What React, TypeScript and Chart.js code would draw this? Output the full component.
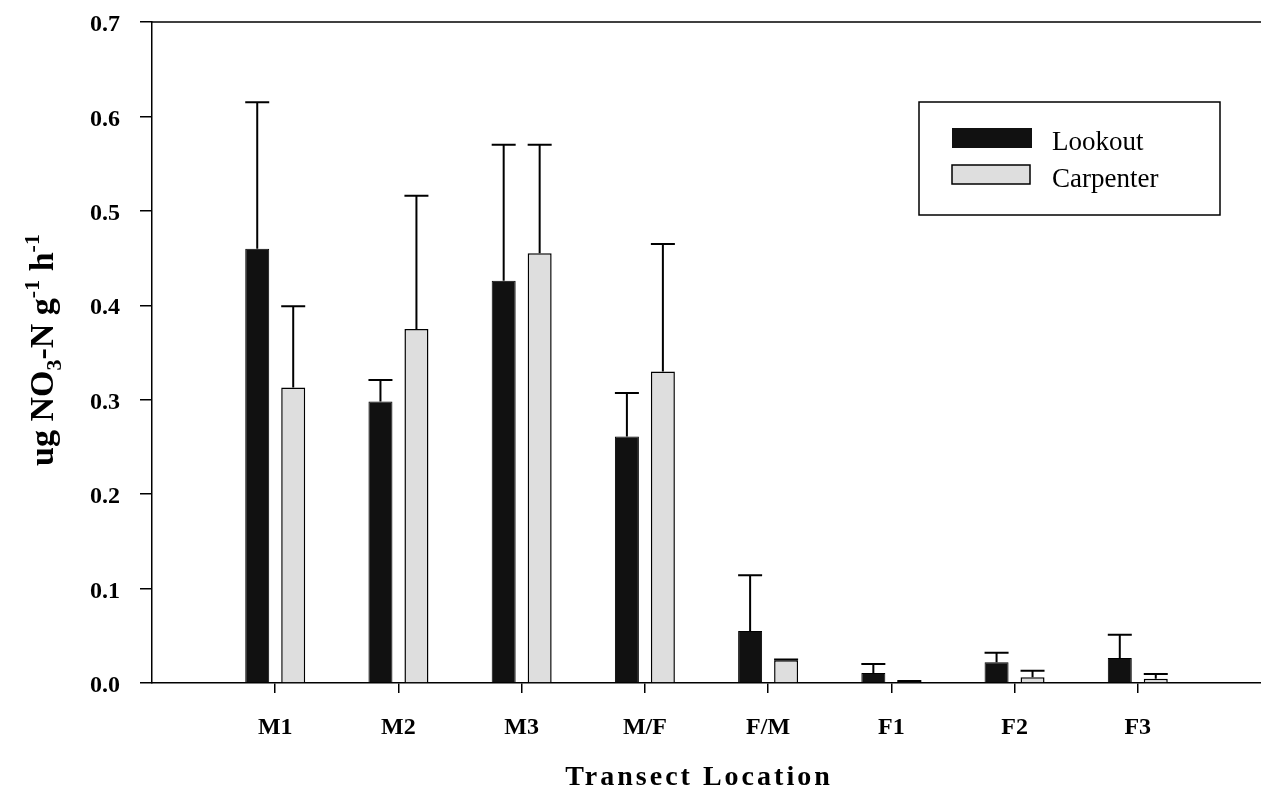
import React, { useEffect, useRef } from 'react';
import { Chart, registerables } from 'chart.js';

Chart.register(...registerables);

const categories = ['M1', 'M2', 'M3', 'M/F', 'F/M', 'F1', 'F2', 'F3'];
const lookout = [0.46, 0.298, 0.426, 0.261, 0.055, 0.0105, 0.022, 0.0265];
const lookoutErr = [0.155, 0.023, 0.144, 0.046, 0.059, 0.0095, 0.01, 0.0245];
const carpenter = [0.313, 0.375, 0.455, 0.33, 0.024, 0.0015, 0.006, 0.0045];
const carpenterErr = [0.086, 0.141, 0.115, 0.135, 0.001, 0.0005, 0.007, 0.005];
const yTickValues = [0, 0.1, 0.2, 0.3, 0.4, 0.5, 0.6, 0.7];

const SERIF = '"Liberation Serif", "DejaVu Serif", serif';

const errors = [lookoutErr, carpenterErr];

const errorBarPlugin = {
  id: 'errorBars',
  afterDatasetsDraw(chart: any) {
    const ctx = chart.ctx;
    const y = chart.scales.y;
    ctx.save();
    ctx.strokeStyle = '#000';
    ctx.lineWidth = 2;
    chart.data.datasets.forEach((ds: any, i: number) => {
      const meta = chart.getDatasetMeta(i);
      meta.data.forEach((bar: any, j: number) => {
        const v = ds.data[j];
        if (v == null) return;
        const err = errors[i][j - 1];
        const top = y.getPixelForValue(v + err);
        const w = bar.width;
        ctx.beginPath();
        ctx.moveTo(bar.x, bar.y);
        ctx.lineTo(bar.x, top);
        ctx.moveTo(bar.x - w / 2, top);
        ctx.lineTo(bar.x + w / 2, top);
        ctx.stroke();
      });
    });
    ctx.restore();
  },
};

const decorPlugin = {
  id: 'decor',
  afterDraw(chart: any) {
    const ctx = chart.ctx;
    const area = chart.chartArea;
    ctx.save();
    // top frame line
    ctx.strokeStyle = '#000';
    ctx.lineWidth = 1.5;
    ctx.beginPath();
    ctx.moveTo(area.left, area.top);
    ctx.lineTo(area.right, area.top);
    ctx.stroke();

    // legend
    ctx.lineWidth = 1.5;
    ctx.strokeRect(919, 102, 301, 113);
    ctx.fillStyle = '#111';
    ctx.fillRect(952, 128, 80, 20);
    ctx.fillStyle = '#dedede';
    ctx.fillRect(952, 165, 78, 19);
    ctx.lineWidth = 1.5;
    ctx.strokeRect(952, 165, 78, 19);
    ctx.fillStyle = '#000';
    ctx.font = `27px ${SERIF}`;
    ctx.textAlign = 'left';
    ctx.textBaseline = 'alphabetic';
    ctx.fillText('Lookout', 1052, 150);
    ctx.fillText('Carpenter', 1052, 187);

    // x title
    ctx.font = `bold 28px ${SERIF}`;
    (ctx as any).letterSpacing = '3px';
    ctx.textAlign = 'center';
    ctx.fillText('Transect Location', 699, 785);
    (ctx as any).letterSpacing = '0px';

    // y title with sub/superscripts
    const size = 34;
    const small = 22;
    const parts: [string, number, number][] = [
      ['ug NO', size, 0],
      ['3', small, 8],
      ['-N g', size, 0],
      ['-1', small, -14],
      [' h', size, 0],
      ['-1', small, -14],
    ];
    let total = 0;
    parts.forEach(([t, s]) => {
      ctx.font = `bold ${s}px ${SERIF}`;
      total += ctx.measureText(t).width;
    });
    ctx.translate(53, 350);
    ctx.rotate(-Math.PI / 2);
    ctx.textAlign = 'left';
    let xPos = -total / 2;
    parts.forEach(([t, s, dy]) => {
      ctx.font = `bold ${s}px ${SERIF}`;
      ctx.fillText(t, xPos, dy);
      xPos += ctx.measureText(t).width;
    });
    ctx.restore();
  },
};

export default function App() {
  const ref = useRef<HTMLCanvasElement | null>(null);
  useEffect(() => {
    document.body.style.margin = '0';
    if (!ref.current) return;
    const labels = ['', ...categories, ''];
    const chart = new Chart(ref.current, {
      type: 'bar',
      data: {
        labels,
        datasets: [
          {
            label: 'Lookout',
            data: [null, ...lookout, null],
            backgroundColor: '#111',
            borderColor: '#000',
            borderWidth: 1,
            categoryPercentage: 0.584,
            barPercentage: 0.667,
          },
          {
            label: 'Carpenter',
            data: [null, ...carpenter, null],
            backgroundColor: '#dedede',
            borderColor: '#000',
            borderWidth: 1.5,
            categoryPercentage: 0.584,
            barPercentage: 0.667,
          },
        ],
      },
      options: {
        responsive: false,
        animation: false,
        layout: { padding: { top: 22, left: 0, right: 0, bottom: 0 } },
        plugins: {
          legend: { display: false },
          tooltip: { enabled: false },
        },
        scales: {
          x: {
            offset: false,
            grid: {
              display: true,
              offset: false,
              drawOnChartArea: false,
              drawTicks: true,
              tickLength: 10,
              lineWidth: 1.5,
              tickColor: (c: any) =>
                c.index === 0 || c.index === labels.length - 1 ? 'rgba(0,0,0,0)' : '#000',
            },
            border: { display: true, color: '#000', width: 1.5 },
            ticks: {
              color: '#000',
              font: { family: SERIF, size: 24, weight: 'bold' },
              padding: 20,
              maxRotation: 0,
              autoSkip: false,
            },
            afterFit: (s: any) => {
              s.height = 110;
              s.paddingLeft = 0;
              s.paddingRight = 0;
            },
          },
          y: {
            min: 0,
            max: 0.7,
            afterBuildTicks: (s: any) => {
              s.ticks = yTickValues.map((v) => ({ value: v }));
            },
            grid: {
              display: true,
              drawOnChartArea: false,
              drawTicks: true,
              tickLength: 12,
              lineWidth: 1.5,
              tickColor: '#000',
            },
            border: { display: true, color: '#000', width: 1.5 },
            ticks: {
              color: '#000',
              font: { family: SERIF, size: 24, weight: 'bold' },
              padding: 20,
              labelOffset: 3,
              callback: (v: any) => Number(v).toFixed(1),
            },
            afterFit: (s: any) => {
              s.width = 152;
              s.paddingTop = 0;
              s.paddingBottom = 0;
            },
          },
        },
      },
      plugins: [errorBarPlugin, decorPlugin],
    });
    return () => chart.destroy();
  }, []);
  return (
    <div style={{ width: 1261, height: 793, background: '#fff' }}>
      <canvas ref={ref} width={1261} height={793} style={{ display: 'block' }} />
    </div>
  );
}
